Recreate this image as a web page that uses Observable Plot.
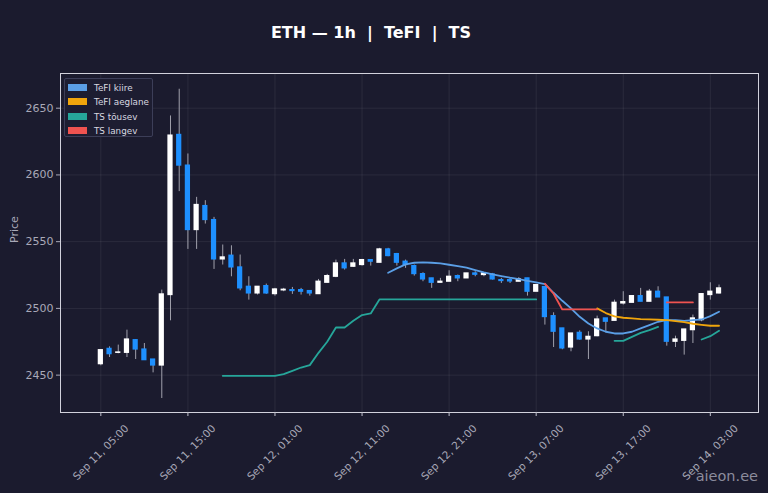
<!DOCTYPE html>
<html><head><meta charset="utf-8">
<script src="https://cdn.jsdelivr.net/npm/d3@7"></script>
<script src="https://cdn.jsdelivr.net/npm/@observablehq/plot@0.6"></script>
<style>
html,body{margin:0;padding:0;background:#1b1b2e;}
body{width:768px;height:493px;overflow:hidden;position:relative;font-family:"DejaVu Sans",sans-serif;}
#title{position:absolute;left:0;top:0;width:742px;height:60px;line-height:66px;text-align:center;color:#ffffff;font-weight:bold;font-size:16px;}
#chart{position:absolute;left:0;top:60px;}
#legend{position:absolute;left:64px;top:78px;width:89px;height:59px;border:1px solid #3c3e58;background:#1d1d31;border-radius:2px;box-sizing:border-box;}
.li{position:absolute;left:3px;height:10px;font-size:8.8px;color:#d8d8e0;line-height:10px;white-space:nowrap;}
.sw{display:inline-block;width:19px;height:7px;vertical-align:middle;margin-right:7px;margin-top:-2px;}
#wm{position:absolute;right:10px;top:468px;font-size:14.5px;color:#8c8c9c;}
</style></head>
<body>
<div id="title">ETH — 1h &nbsp;|&nbsp; TeFI &nbsp;|&nbsp; TS</div>
<div id="chart"></div>
<div id="legend"></div>
<div id="wm">aieon.ee</div>
<script>
// Candles: hourly, from Sep 11 05:00
const open = [2458.2,2469.7,2466.7,2466.7,2476.2,2469.2,2461.7,2457.2,2510,2630,2607,2558.7,2576.7,2566.2,2536.7,2539.5,2530.7,2516.2,2511.2,2516.7,2510.7,2513.5,2513.7,2513.7,2513,2510.7,2519.2,2523.7,2533.7,2531.2,2532.5,2536.2,2534.2,2544.2,2540.7,2535,2531.7,2525.7,2522.5,2519.2,2520,2524.2,2522.5,2526.2,2525,2525.5,2521.2,2521.2,2520,2522.5,2512.5,2516,2494.2,2485,2470.7,2481.7,2476.7,2479.2,2492.5,2490.7,2503.7,2504.2,2509.2,2505,2512.5,2508.2,2475,2475.7,2483.7,2491.2,2510,2511.2];
const high = [2469,2471.2,2472.5,2483.7,2476.5,2473.7,2461.7,2513.7,2644.2,2664.2,2615.7,2583.2,2580.7,2568.2,2547.5,2546.9,2540,2523.7,2516.2,2518.2,2515,2515,2515.7,2515,2513,2521.7,2525.5,2536.2,2536.7,2536.7,2536.7,2536.2,2545,2545,2541.2,2536.2,2532.5,2526.7,2522.5,2522.5,2528.2,2525,2526.2,2527.5,2526.2,2526.2,2522.5,2522.5,2523,2522.5,2518,2516,2496.7,2485,2481.2,2483.2,2482.5,2494.2,2492.5,2506.2,2512.5,2509.2,2515,2514.2,2516.2,2508.2,2479.2,2484.2,2495,2510.7,2519.2,2517.5];
const low = [2457,2463.2,2466,2463.2,2461.7,2461,2451.7,2432.5,2490.7,2587.5,2544.2,2544.2,2563.2,2529.2,2532.5,2523.7,2513.2,2506.2,2510,2510.5,2509.2,2512.5,2510.5,2510,2509.2,2510.7,2519,2523,2528.7,2530.7,2531.7,2531.7,2534.2,2538.7,2531.7,2530,2524.2,2520,2515,2519,2520,2520,2522.5,2523.7,2523.7,2521.2,2518.7,2518.7,2520,2509.2,2512.5,2487.5,2470.7,2469,2467.5,2476.2,2461.7,2478.7,2481.7,2490.7,2502.5,2504.2,2505,2505,2508.2,2471.7,2470.7,2465,2473.7,2490,2506.2,2510.7];
const close = [2468.7,2465.7,2467,2476.7,2469.2,2461.2,2457.2,2510.5,2629.5,2607,2558.7,2577.5,2566.2,2536.7,2538.2,2530.7,2515,2511.2,2516.2,2511.2,2514.2,2514,2513,2512.5,2511.2,2520,2524.2,2533.7,2530,2533.7,2536.2,2535,2544.2,2539.2,2534.2,2532.5,2525.7,2521.7,2519.2,2520,2523.7,2522.5,2526.2,2525.2,2526.2,2521.7,2520.5,2520.2,2521.7,2512.5,2517.5,2493.5,2482.5,2470,2481.2,2476.7,2478.7,2491.7,2490,2504.2,2504.7,2509.2,2505,2512.5,2508.2,2475,2476.7,2484.2,2492.5,2510.7,2512.5,2515];

const _ = null;
// TeFI kiire
const tefiFast = [_,_,_,_,_,_,_,_,_,_,_,_,_,_,_,_,_,_,_,_,_,_,_,_,_,_,_,_,_,_,_,_,_,
  2526.7,2530,2533,2534.2,2534.5,2534.2,2533.7,2532.7,2531.7,2530.5,2528.7,2527,2525.5,2524.2,2523,2522,2520.7,2519.5,2518.2,2511.7,2505.7,2500,2493.7,2488.7,2485,2482.5,2481.2,2481.2,2482.5,2485,2487.5,2490,2491.2,2491.2,2490.7,2491.2,2491.7,2494.2,2497.5];
// TeFI aeglane
const tefiSlow = [_,_,_,_,_,_,_,_,_,_,_,_,_,_,_,_,_,_,_,_,_,_,_,_,_,_,_,_,_,_,_,_,_,_,_,_,_,_,_,_,_,_,_,_,_,_,_,_,_,_,_,_,_,_,_,_,_,
  2500,2496.5,2494,2493,2492.5,2492,2491.7,2491.5,2491.2,2490.5,2489.7,2488.5,2487.7,2487,2487];
// TS tõusev
const tsUp = [_,_,_,_,_,_,_,_,_,_,_,_,_,_,
  2449.5,2449.5,2449.5,2449.5,2449.5,2449.5,2449.5,2450.7,2453.2,2455.7,2457.5,2466.7,2475,2485.7,2485.7,2490.7,2495,2496.2,
  2506.7,2506.7,2506.7,2506.7,2506.7,2506.7,2506.7,2506.7,2506.7,2506.7,2506.7,2506.7,2506.7,2506.7,2506.7,2506.7,2506.7,2506.7,2506.7,
  _,_,_,_,_,_,_,_,
  2475.7,2475.7,2478.7,2481.7,2483.7,2486.2,
  _,_,_,_,
  2476.7,2479.2,2483.2];
// TS langev
const tsDown = [_,_,_,_,_,_,_,_,_,_,_,_,_,_,_,_,_,_,_,_,_,_,_,_,_,_,_,_,_,_,_,_,_,_,_,_,_,_,_,_,_,_,_,_,_,_,_,_,_,_,_,
  2518.5,2511,2499.2,2499.2,2499.2,2499.2,2499.2,
  _,_,_,_,_,_,_,
  2504.5,2504.5,2504.5,2504.5,
  _,_,_];

const yTicks = [2450,2500,2550,2600,2650];
const seriesNames = ["TeFI kiire","TeFI aeglane","TS tõusev","TS langev"];
const seriesColors = ["#5b9fe6","#f0a50c","#26a69a","#ef5350"];
const upColor = "#ffffff", downColor = "#1e90ff", wickColor = "#a0a0ac";

const start = new Date(Date.UTC(2024,8,11,5));
const times = d3.utcHour.range(start, d3.utcHour.offset(start, open.length));
const candles = times.map((t,i)=>({t, o:open[i], h:high[i], l:low[i], c:close[i]}));
const xDomain = [new Date(Date.UTC(2024,8,11,0,22)), new Date(Date.UTC(2024,8,14,8,32))];
const xTicks = d3.utcHour.range(start, xDomain[1], 10);
const fmt = d3.utcFormat("%b %d, %H:%M");
const halfW = 18*60*1000;
const seriesData = [tefiFast, tefiSlow, tsUp, tsDown];

const marks = [
  Plot.gridY(yTicks, {stroke:"#ffffff", strokeOpacity:0.07}),
  Plot.gridX(xTicks, {stroke:"#ffffff", strokeOpacity:0.07}),
  Plot.ruleX(candles, {x:"t", y1:"l", y2:"h", stroke:wickColor, strokeWidth:1}),
  Plot.rect(candles, {x1:d=>new Date(+d.t-halfW), x2:d=>new Date(+d.t+halfW), y1:"o", y2:"c",
    fill:d=>d.c>=d.o?upColor:downColor, insetTop:-0.6, insetBottom:-0.6}),
  ...seriesData.map((arr,k)=>Plot.line(times, {x:d=>d, y:(d,i)=>arr[i], stroke:seriesColors[k], strokeWidth:1.8})),
  Plot.frame({stroke:"#d2d2dc", strokeWidth:1}),
  Plot.axisY(yTicks, {tickSize:4, tickPadding:3, fontSize:11, label:null, tickFormat:d3.format("d"), color:"#a9a9b8"}),
  Plot.axisX(xTicks, {tickSize:4, tickFormat:()=>"", label:null, color:"#c0c0cc"}),
  Plot.text(xTicks, {x:d=>d, text:d=>fmt(d), frameAnchor:"bottom", dy:40, rotate:-45, textAnchor:"middle", lineAnchor:"middle", fontSize:10.5, fill:"#a9a9b8"}),
  Plot.text(["Price"], {frameAnchor:"left", dx:-46, rotate:-90, fontSize:11, fill:"#a9a9b8"})
];

const chart = Plot.plot({
  width:768, height:433,
  marginLeft:60, marginRight:10, marginTop:13, marginBottom:81,
  style:{background:"transparent", color:"#a9a9b8", fontFamily:"DejaVu Sans, sans-serif", overflow:"visible"},
  x:{type:"utc", domain:xDomain},
  y:{domain:[2422,2676]},
  marks
});
document.getElementById("chart").appendChild(chart);

const lg = document.getElementById("legend");
seriesNames.forEach((n,k)=>{
  const d = document.createElement("div");
  d.className="li"; d.style.top = (4 + k*14.3) + "px";
  d.innerHTML = `<span class="sw" style="background:${seriesColors[k]}"></span>${n}`;
  lg.appendChild(d);
});
</script>
</body></html>
